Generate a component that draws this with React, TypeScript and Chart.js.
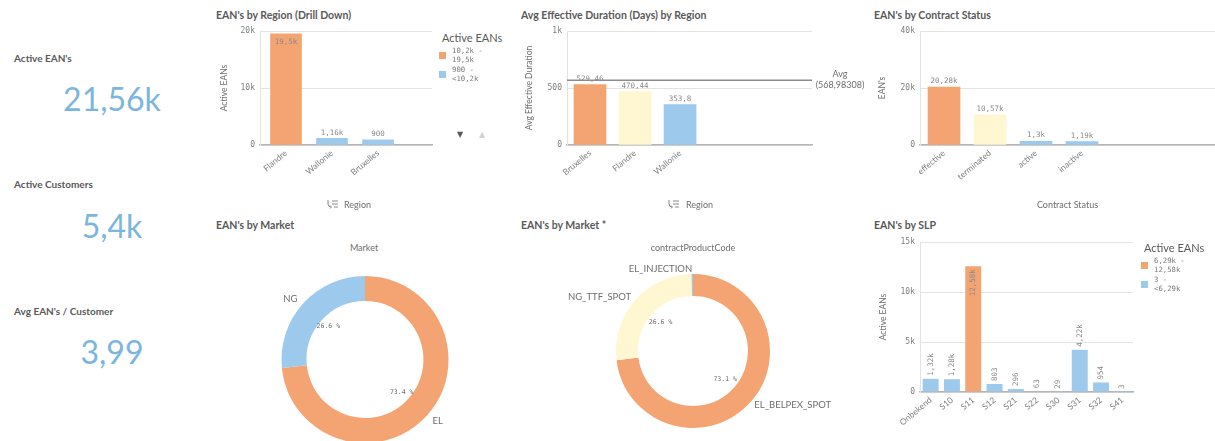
import React, { useEffect, useRef } from 'react';
import { Chart, registerables } from 'chart.js';
Chart.register(...registerables);

// ---------------- data ----------------
const kpiTitles = ["Active EAN's", 'Active Customers', "Avg EAN's / Customer"];
const kpiValues = ['21,56k', '5,4k', '3,99'];

const regionTitle = "EAN's by Region (Drill Down)";
const regionLabels = ['Flandre', 'Wallonie', 'Bruxelles'];
const regionValues = [19500, 1160, 900];
const regionThreshold = 10200;
const regionYMax = 20000;
const regionYStep = 10000;
const regionLegendTitle = 'Active EANs';
const regionLegendItems = [['10,2k -', '19,5k'], ['900 -', '<10,2k']];

const durationTitle = 'Avg Effective Duration (Days) by Region';
const durationLabels = ['Bruxelles', 'Flandre', 'Wallonie'];
const durationValues = [529.46, 470.44, 353.8];
const durationAvg = 568.98308;
const durationYMax = 1000;
const durationYStep = 500;

const statusTitle = "EAN's by Contract Status";
const statusLabels = ['effective', 'terminated', 'active', 'inactive'];
const statusValues = [20280, 10570, 1300, 1190];
const statusYMax = 40000;
const statusYStep = 20000;

const marketTitle = "EAN's by Market";
const marketDim = 'Market';
const marketLabels = ['EL', 'NG'];
const marketValues = [73.4, 26.6];

const productTitle = "EAN's by Market *";
const productDim = 'contractProductCode';
const productLabels = ['EL_BELPEX_SPOT', 'NG_TTF_SPOT', 'EL_INJECTION'];
const productValues = [73.1, 26.6, 0.3];

const slpTitle = "EAN's by SLP";
const slpLabels = ['Onbekend', 'S10', 'S11', 'S12', 'S21', 'S22', 'S30', 'S31', 'S32', 'S41'];
const slpValues = [1320, 1280, 12580, 803, 296, 63, 29, 4220, 954, 3];
const slpThreshold = 6290;
const slpYMax = 15000;
const slpYStep = 5000;
const slpLegendTitle = 'Active EANs';
const slpLegendItems = [['6,29k -', '12,58k'], ['3 -', '<6,29k']];

// ---------------- styles ----------------
const ORANGE = '#f4a373';
const YELLOW = '#fff7d1';
const BLUE = '#9dc9ec';
const KPI_BLUE = '#7cb5de';
const TITLE_C = '#595959';
const TEXT_C = '#7f7f7f';
const GRID_C = '#e3e3e3';
const AXIS_C = '#b5b5b5';
const SANS = 'Lato, "Open Sans", sans-serif';
const MONO = '"DejaVu Sans Mono", monospace';

const durationColors = [ORANGE, YELLOW, BLUE];
const statusColors = [ORANGE, YELLOW, BLUE, BLUE];
const marketColors = [ORANGE, BLUE];
const productColors = [ORANGE, YELLOW, BLUE];

function fmtK(v: number): string {
  if (Math.abs(v) >= 1000) {
    return String(Number((v / 1000).toFixed(2))).replace('.', ',') + 'k';
  }
  return String(v).replace('.', ',');
}
function fmtDec(v: number): string {
  return String(v).replace('.', ',');
}

// ---------------- plugins ----------------
function valueLabelPlugin(format: (v: number) => string, vertical: boolean) {
  return {
    id: 'valueLabels',
    afterDatasetsDraw(chart: any) {
      const { ctx, chartArea } = chart;
      chart.data.datasets.forEach((ds: any, di: number) => {
        const meta = chart.getDatasetMeta(di);
        meta.data.forEach((bar: any, i: number) => {
          const raw = ds.data[i];
          const v = typeof raw === 'number' ? raw : raw.y;
          const text = format(v);
          ctx.save();
          ctx.font = `7.5px ${MONO}`;
          ctx.fillStyle = '#8a8a8a';
          if (vertical) {
            ctx.translate(bar.x, bar.y);
            ctx.rotate(-Math.PI / 2);
            ctx.textBaseline = 'middle';
            const w = ctx.measureText(text).width;
            if (bar.y - w - 6 < chartArea.top) {
              ctx.textAlign = 'right';
              ctx.fillText(text, -3, 0);
            } else {
              ctx.textAlign = 'left';
              ctx.fillText(text, 3, 0);
            }
          } else {
            ctx.textAlign = 'center';
            if (bar.y - 12 < chartArea.top) {
              ctx.textBaseline = 'top';
              ctx.fillText(text, bar.x, bar.y + 4);
            } else {
              ctx.textBaseline = 'bottom';
              ctx.fillText(text, bar.x, bar.y - 2);
            }
          }
          ctx.restore();
        });
      });
    },
  };
}

function avgLinePlugin(value: number) {
  return {
    id: 'avgLine',
    beforeDatasetsDraw(chart: any) {
      const { ctx, chartArea, scales } = chart;
      const y = scales.y.getPixelForValue(value);
      ctx.save();
      ctx.strokeStyle = '#8c8c8c';
      ctx.lineWidth = 1.5;
      ctx.beginPath();
      ctx.moveTo(chartArea.left, y);
      ctx.lineTo(chartArea.right, y);
      ctx.stroke();
      ctx.restore();
    },
  };
}

function donutLabelPlugin(outOffset: number, inOffset: number) {
  return {
    id: 'donutLabels',
    afterDatasetsDraw(chart: any) {
      const ctx = chart.ctx;
      const meta = chart.getDatasetMeta(0);
      const data = chart.data.datasets[0].data as number[];
      const total = data.reduce((a, b) => a + b, 0);
      const labels = chart.data.labels as string[];
      meta.data.forEach((arc: any, i: number) => {
        const p = arc.getProps(['x', 'y', 'startAngle', 'endAngle', 'outerRadius', 'innerRadius'], true);
        const mid = (p.startAngle + p.endAngle) / 2;
        const c = Math.cos(mid);
        const s = Math.sin(mid);
        ctx.save();
        ctx.fillStyle = '#6e6e6e';
        ctx.textBaseline = 'middle';
        ctx.font = `9.5px ${SANS}`;
        ctx.textAlign = c < 0 ? 'right' : 'left';
        const ro = p.outerRadius + outOffset;
        ctx.fillText(labels[i], p.x + ro * c, p.y + ro * s);
        const pct = (data[i] / total) * 100;
        if (pct >= 5) {
          const ri = p.innerRadius - inOffset;
          ctx.font = `6.5px ${MONO}`;
          ctx.textAlign = 'center';
          ctx.fillText(pct.toFixed(1) + ' %', p.x + ri * c, p.y + ri * s);
        }
        ctx.restore();
      });
    },
  };
}

// ---------------- config builders ----------------
type BarOpts = {
  labels: string[];
  values: number[];
  colors: string[];
  xMin?: number;
  xMax?: number;
  barWidth?: number;
  category?: boolean;
  yMax: number;
  yStep: number;
  yTitle: string;
  yTitlePad: number;
  yAxisW: number;
  xAxisH: number;
  padTop: number;
  padRight: number;
  xTitle?: string;
  xTitlePad?: number;
  format: (v: number) => string;
  vertical?: boolean;
  extra?: any[];
};

function barConfig(o: BarOpts): any {
  const xScale: any = o.category
    ? {
        type: 'category',
        offset: true,
      }
    : {
        type: 'linear',
        offset: false,
        min: o.xMin,
        max: o.xMax,
        afterBuildTicks: (s: any) => {
          s.ticks = o.labels.map((_, i) => ({ value: i }));
        },
      };
  Object.assign(xScale, {
    grid: { display: false, drawTicks: false },
    border: { display: true, color: AXIS_C, width: 1.5 },
    ticks: {
      autoSkip: false,
      minRotation: 40,
      maxRotation: 40,
      padding: 3,
      color: TEXT_C,
      font: { family: SANS, size: 8.5 },
      callback: o.category
        ? (_v: any, i: number) => o.labels[i]
        : (v: any) => (o.labels[v] !== undefined ? o.labels[v] : ''),
    },
    title: o.xTitle
      ? {
          display: true,
          text: o.xTitle,
          color: '#6e6e6e',
          font: { family: SANS, size: 9 },
          padding: { top: 0, bottom: o.xTitlePad || 0 },
        }
      : { display: false },
    afterFit: (s: any) => {
      s.height = o.xAxisH;
    },
  });
  const data = o.category ? o.values : o.values.map((v, i) => ({ x: i, y: v }));
  return {
    type: 'bar',
    data: {
      labels: o.category ? o.labels : undefined,
      datasets: [
        {
          data,
          backgroundColor: o.colors,
          borderWidth: 0,
          barThickness: o.category ? undefined : o.barWidth,
          categoryPercentage: 1,
          barPercentage: 0.75,
        },
      ],
    },
    options: {
      responsive: false,
      animation: false,
      events: [],
      layout: { padding: { top: o.padTop, right: o.padRight, left: 0, bottom: 0 } },
      plugins: { legend: { display: false }, tooltip: { enabled: false } },
      scales: {
        x: xScale,
        y: {
          min: 0,
          max: o.yMax,
          ticks: {
            stepSize: o.yStep,
            padding: 5,
            color: TEXT_C,
            font: { family: MONO, size: 8 },
            callback: (v: any) => fmtK(Number(v)),
          },
          grid: { color: GRID_C, drawTicks: false },
          border: { display: true, color: GRID_C, width: 1 },
          title: {
            display: true,
            text: o.yTitle,
            color: '#6e6e6e',
            font: { family: SANS, size: 8.5 },
            padding: { top: o.yTitlePad, bottom: 0 },
          },
          afterFit: (s: any) => {
            s.width = o.yAxisW;
          },
        },
      },
    },
    plugins: [...(o.extra || []), valueLabelPlugin(o.format, !!o.vertical)],
  };
}

function donutConfig(labels: string[], values: number[], colors: string[], cutout: string, pad: any, outOff: number, inOff: number): any {
  return {
    type: 'doughnut',
    data: {
      labels,
      datasets: [{ data: values, backgroundColor: colors, borderWidth: 0 }],
    },
    options: {
      responsive: false,
      animation: false,
      events: [],
      cutout,
      layout: { padding: pad },
      plugins: { legend: { display: false }, tooltip: { enabled: false } },
    },
    plugins: [donutLabelPlugin(outOff, inOff)],
  };
}

// ---------------- components ----------------
function ChartBox(props: { left: number; top: number; width: number; height: number; make: () => any }) {
  const ref = useRef<HTMLCanvasElement>(null);
  useEffect(() => {
    const chart = new Chart(ref.current as HTMLCanvasElement, props.make());
    return () => chart.destroy();
  }, []);
  return (
    <canvas
      ref={ref}
      width={props.width}
      height={props.height}
      style={{ position: 'absolute', left: props.left, top: props.top, width: props.width, height: props.height }}
    />
  );
}

function Txt(props: {
  x: number;
  y: number;
  size: number;
  text: string;
  color?: string;
  bold?: boolean;
  family?: string;
  align?: 'left' | 'center' | 'right';
}) {
  const w = 400;
  let left = props.x;
  if (props.align === 'center') left = props.x - w / 2;
  if (props.align === 'right') left = props.x - w;
  return (
    <div
      style={{
        position: 'absolute',
        left,
        top: props.y - props.size * 0.53,
        width: props.align ? w : undefined,
        textAlign: props.align || 'left',
        fontSize: props.size,
        lineHeight: `${props.size}px`,
        fontFamily: props.family || SANS,
        fontWeight: props.bold ? 700 : 400,
        color: props.color || TITLE_C,
        whiteSpace: 'nowrap',
      }}
    >
      {props.text}
    </div>
  );
}

function Legend(props: { x: number; y: number; title: string; items: string[][]; colors: string[] }) {
  return (
    <div>
      <Txt x={props.x + 3} y={props.y} size={11} text={props.title} color="#595959" />
      {props.items.map((lines, i) => (
        <div key={i}>
          <div
            style={{
              position: 'absolute',
              left: props.x,
              top: props.y + 14 + i * 19,
              width: 7,
              height: 7,
              background: props.colors[i],
            }}
          />
          {lines.map((ln, j) => (
            <Txt
              key={j}
              x={props.x + 13}
              y={props.y + 13 + i * 19 + j * 9}
              size={7.3}
              family={MONO}
              text={ln}
              color="#7a7a7a"
            />
          ))}
        </div>
      ))}
    </div>
  );
}

function DrillIcon(props: { x: number; y: number }) {
  return (
    <svg
      width={11}
      height={9}
      viewBox="0 0 11 9"
      style={{ position: 'absolute', left: props.x, top: props.y }}
    >
      <path d="M1 0 V4 Q1 7 4 7" stroke="#8a8a8a" strokeWidth="1" fill="none" />
      <path d="M3 5.5 L4.5 7 L3 8.5" stroke="#8a8a8a" strokeWidth="1" fill="none" />
      <path d="M5 1 H11 M5 4 H11 M7 7 H11" stroke="#8a8a8a" strokeWidth="1" />
    </svg>
  );
}

export default function App() {
  const regionColors = regionValues.map((v) => (v >= regionThreshold ? ORANGE : BLUE));
  const slpColors = slpValues.map((v) => (v >= slpThreshold ? ORANGE : BLUE));
  const kpiY = [
    [58, 99.5],
    [184, 226.5],
    [311, 353],
  ];
  return (
    <div
      style={{
        position: 'fixed',
        left: 0,
        top: 0,
        width: 1215,
        height: 441,
        overflow: 'hidden',
        background: '#ffffff',
      }}
    >
      {kpiTitles.map((t, i) => (
        <div key={t}>
          <Txt x={14} y={kpiY[i][0]} size={10} bold text={t} color={TITLE_C} />
          <Txt x={112} y={kpiY[i][1]} size={32} text={kpiValues[i]} color={KPI_BLUE} align="center" />
        </div>
      ))}

      {/* chart titles */}
      <Txt x={216} y={15.5} size={10.5} bold text={regionTitle} />
      <Txt x={521} y={15.5} size={10.5} bold text={durationTitle} />
      <Txt x={874} y={15.5} size={10.5} bold text={statusTitle} />
      <Txt x={216} y={226} size={10.5} bold text={marketTitle} />
      <Txt x={521} y={226} size={10.5} bold text={productTitle} />
      <Txt x={874} y={226} size={10.5} bold text={slpTitle} />

      {/* Region drill down */}
      <ChartBox
        left={200}
        top={0}
        width={240}
        height={220}
        make={() =>
          barConfig({
            labels: regionLabels,
            values: regionValues,
            colors: regionColors,
            xMin: -0.565,
            xMax: 3.174,
            barWidth: 31,
            yMax: regionYMax,
            yStep: regionYStep,
            yTitle: 'Active EANs',
            yTitlePad: 19,
            yAxisW: 60,
            xAxisH: 75,
            padTop: 31,
            padRight: 8,
            format: fmtK,
          })
        }
      />
      <Legend x={439} y={38} title={regionLegendTitle} items={regionLegendItems} colors={[ORANGE, BLUE]} />
      <Txt x={457} y={135} size={8} text="▼" color="#595959" family='"DejaVu Sans", sans-serif' />
      <Txt x={479} y={135} size={8} text="▲" color="#d4d4d4" family='"DejaVu Sans", sans-serif' />
      <DrillIcon x={327} y={200} />
      <Txt x={344} y={205} size={9} text="Region" color="#6e6e6e" />

      {/* Avg duration */}
      <ChartBox
        left={500}
        top={0}
        width={360}
        height={220}
        make={() =>
          barConfig({
            labels: durationLabels,
            values: durationValues,
            colors: durationColors,
            xMin: -0.511,
            xMax: 4.93,
            barWidth: 32,
            yMax: durationYMax,
            yStep: durationYStep,
            yTitle: 'Avg Effective Duration',
            yTitlePad: 24,
            yAxisW: 67,
            xAxisH: 75,
            padTop: 31,
            padRight: 48,
            format: fmtDec,
            extra: [avgLinePlugin(durationAvg)],
          })
        }
      />
      <Txt x={840} y={74} size={9} text="Avg" color="#6e6e6e" align="center" />
      <Txt x={840} y={85} size={9} text={`(${fmtDec(durationAvg)})`} color="#6e6e6e" align="center" />
      <DrillIcon x={668} y={200} />
      <Txt x={686} y={205} size={9} text="Region" color="#6e6e6e" />

      {/* Contract status */}
      <ChartBox
        left={860}
        top={0}
        width={355}
        height={220}
        make={() =>
          barConfig({
            labels: statusLabels,
            values: statusValues,
            colors: statusColors,
            xMin: -0.522,
            xMax: 5.891,
            barWidth: 32,
            yMax: statusYMax,
            yStep: statusYStep,
            yTitle: "EAN's",
            yTitlePad: 17,
            yAxisW: 60,
            xAxisH: 75,
            padTop: 31,
            padRight: 0,
            xTitle: 'Contract Status',
            xTitlePad: 10,
            format: fmtK,
          })
        }
      />

      {/* Market donut */}
      <Txt x={364} y={248} size={9} text={marketDim} color="#6e6e6e" align="center" />
      <ChartBox
        left={200}
        top={230}
        width={320}
        height={260}
        make={() =>
          donutConfig(marketLabels, marketValues, marketColors, '70%', { left: 81.5, right: 71.5, top: 46, bottom: 47 }, 7.5, 9)
        }
      />

      {/* Product donut */}
      <Txt x={693} y={248} size={9} text={productDim} color="#6e6e6e" align="center" />
      <ChartBox
        left={530}
        top={240}
        width={326}
        height={200}
        make={() =>
          donutConfig(productLabels, productValues, productColors, '71.4%', { left: 86, right: 86, top: 34, bottom: 12 }, 5, 12)
        }
      />

      {/* SLP */}
      <ChartBox
        left={860}
        top={230}
        width={280}
        height={211}
        make={() =>
          barConfig({
            labels: slpLabels,
            values: slpValues,
            colors: slpColors,
            category: true,
            yMax: slpYMax,
            yStep: slpYStep,
            yTitle: 'Active EANs',
            yTitlePad: 18,
            yAxisW: 60,
            xAxisH: 49,
            padTop: 12,
            padRight: 7,
            format: fmtK,
            vertical: true,
          })
        }
      />
      <Legend x={1141} y={248} title={slpLegendTitle} items={slpLegendItems} colors={[ORANGE, BLUE]} />
    </div>
  );
}
